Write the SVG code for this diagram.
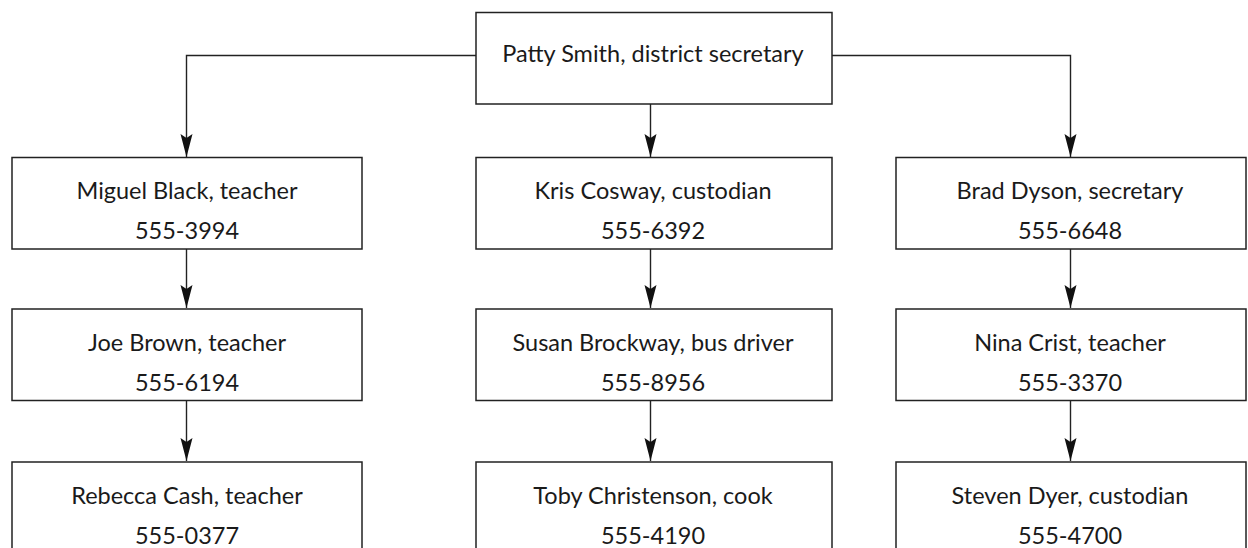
<svg xmlns="http://www.w3.org/2000/svg" width="1248" height="548" viewBox="0 0 1248 548">
<style>
.box{fill:#fff;stroke:#222;stroke-width:1.5}
.t{font-family:Lato,"Gill Sans","Liberation Sans",sans-serif;font-size:23.5px;fill:#1a1a1a;text-anchor:middle}
.c{fill:none;stroke:#222;stroke-width:1.4}
</style>
<defs>
<marker id="ah" markerUnits="userSpaceOnUse" markerWidth="14" markerHeight="26" viewBox="-7 -25 14 26" refX="0" refY="0" orient="auto-start-reverse" overflow="visible">
<path d="M0 0 L-6 -23 L0 -19 L6 -23 Z" fill="#111" transform="rotate(-90)"/>
</marker>
</defs>
<rect width="1248" height="548" fill="#fff"/>
<g id="connectors">
<path class="c" d="M476 55.5 H186.5 V157" marker-end="url(#ah)"/>
<path class="c" d="M832 55.5 H1070.5 V157" marker-end="url(#ah)"/>
<path class="c" d="M650.5 104 V157" marker-end="url(#ah)"/>
<path class="c" d="M186.5 249 V308" marker-end="url(#ah)"/>
<path class="c" d="M650.5 249 V308" marker-end="url(#ah)"/>
<path class="c" d="M1070.5 249 V308" marker-end="url(#ah)"/>
<path class="c" d="M186.5 401 V461" marker-end="url(#ah)"/>
<path class="c" d="M650.5 401 V461" marker-end="url(#ah)"/>
<path class="c" d="M1070.5 401 V461" marker-end="url(#ah)"/>
</g>
<g id="n-patty"><rect class="box" x="476" y="12.5" width="356" height="91.5"/><text class="t" x="653" y="61.5">Patty Smith, district secretary</text></g>
<g id="n-miguel"><rect class="box" x="12" y="157.5" width="350" height="91.5"/><text class="t" x="187" y="198.5">Miguel Black, teacher</text><text class="t" x="187" y="238.5">555-3994</text></g>
<g id="n-kris"><rect class="box" x="476" y="157.5" width="356" height="91.5"/><text class="t" x="653" y="198.5">Kris Cosway, custodian</text><text class="t" x="653" y="238.5">555-6392</text></g>
<g id="n-brad"><rect class="box" x="896" y="157.5" width="350" height="91.5"/><text class="t" x="1070" y="198.5">Brad Dyson, secretary</text><text class="t" x="1070" y="238.5">555-6648</text></g>
<g id="n-joe"><rect class="box" x="12" y="309" width="350" height="91.5"/><text class="t" x="187" y="351">Joe Brown, teacher</text><text class="t" x="187" y="391">555-6194</text></g>
<g id="n-susan"><rect class="box" x="476" y="309" width="356" height="91.5"/><text class="t" x="653" y="351">Susan Brockway, bus driver</text><text class="t" x="653" y="391">555-8956</text></g>
<g id="n-nina"><rect class="box" x="896" y="309" width="350" height="91.5"/><text class="t" x="1070" y="351">Nina Crist, teacher</text><text class="t" x="1070" y="391">555-3370</text></g>
<g id="n-rebecca"><rect class="box" x="12" y="462" width="350" height="100"/><text class="t" x="187" y="503.5">Rebecca Cash, teacher</text><text class="t" x="187" y="543.5">555-0377</text></g>
<g id="n-toby"><rect class="box" x="476" y="462" width="356" height="100"/><text class="t" x="653" y="503.5">Toby Christenson, cook</text><text class="t" x="653" y="543.5">555-4190</text></g>
<g id="n-steven"><rect class="box" x="896" y="462" width="350" height="100"/><text class="t" x="1070" y="503.5">Steven Dyer, custodian</text><text class="t" x="1070" y="543.5">555-4700</text></g>
</svg>
